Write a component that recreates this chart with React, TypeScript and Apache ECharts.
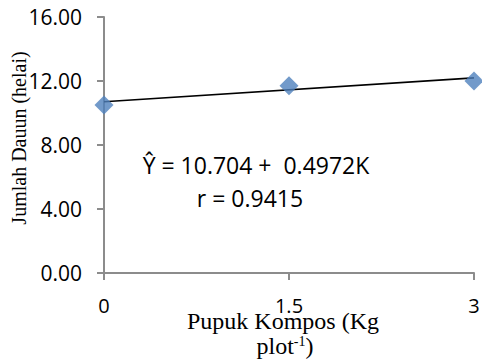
import React, { useEffect, useRef } from "react";
import * as echarts from "echarts";

const xTicks = [0, 1.5, 3];
const dosage = [0, 1.5, 3];
const leafCount = [10.5, 11.7, 12.0];
const intercept = 10.704;
const slope = 0.4972;
const equationText = "Ŷ = 10.704 +  0.4972K";
const rText = "r = 0.9415";
const yName = "Jumlah Dauun (helai)";

export default function App() {
  const ref = useRef<HTMLDivElement>(null);
  useEffect(() => {
    const chart = echarts.init(ref.current!, null, { renderer: "svg" });
    const sans = "Open Sans";
    const serif = "Liberation Serif";
    chart.setOption({
      animation: false,
      grid: { left: 104, right: 8, top: 17, bottom: 87, containLabel: false, outerBoundsMode: "none" },
      xAxis: {
        type: "value",
        min: 0,
        max: 3,
        interval: 1.5,
        axisLine: { show: true, lineStyle: { color: "#8c8c8c", width: 2 } },
        axisTick: { show: true, length: 7, lineStyle: { color: "#8c8c8c", width: 2 } },
        splitLine: { show: false },
        axisLabel: {
          color: "#000",
          fontFamily: sans,
          fontSize: 20,
          margin: 22,
          formatter: (v: number) => (xTicks.includes(v) ? String(v) : ""),
        },
      },
      yAxis: {
        type: "value",
        min: 0,
        max: 16,
        interval: 4,
        axisLine: { show: true, lineStyle: { color: "#8c8c8c", width: 2 } },
        axisTick: { show: true, length: 7, lineStyle: { color: "#8c8c8c", width: 2 } },
        splitLine: { show: false },
        axisLabel: {
          color: "#000",
          fontFamily: sans,
          fontSize: 21,
          margin: 22,
          formatter: (v: number) => v.toFixed(2),
        },
      },
      series: [
        {
          type: "line",
          data: [
            [0, intercept],
            [3, intercept + slope * 3],
          ],
          symbol: "none",
          lineStyle: { color: "#000", width: 1.6 },
          z: 2,
        },
        {
          type: "scatter",
          data: dosage.map((d, i) => [d, leafCount[i]]),
          symbol: "diamond",
          symbolSize: [19, 19],
          itemStyle: { color: "#4f81bd" },
          z: 3,
        },
      ],
      graphic: [
        {
          type: "text",
          x: 19,
          y: 138,
          rotation: Math.PI / 2,
          style: {
            text: yName,
            fontFamily: serif,
            fontSize: 20,
            fill: "#000",
            align: "center",
            verticalAlign: "middle",
          },
        },
        {
          type: "text",
          x: 256,
          y: 165,
          style: {
            text: equationText,
            fontFamily: sans,
            fontSize: 23,
            fill: "#000",
            align: "center",
            verticalAlign: "middle",
          },
        },
        {
          type: "text",
          x: 250,
          y: 198,
          style: {
            text: rText,
            fontFamily: sans,
            fontSize: 23,
            fill: "#000",
            align: "center",
            verticalAlign: "middle",
          },
        },
        {
          type: "text",
          x: 283,
          y: 321,
          style: {
            text: "Pupuk Kompos (Kg",
            fontFamily: serif,
            fontSize: 24,
            fill: "#000",
            align: "center",
            verticalAlign: "middle",
          },
        },
        {
          type: "text",
          x: 285,
          y: 346,
          style: {
            text: "{a|plot}{s|-1}{a|)}",
            fontFamily: serif,
            fontSize: 24,
            fill: "#000",
            align: "center",
            verticalAlign: "middle",
            rich: {
              a: { fontFamily: serif, fontSize: 24, fill: "#000" },
              s: { fontFamily: serif, fontSize: 14, fill: "#000", verticalAlign: "top", padding: [0, 0, 10, 0] },
            },
          },
        },
      ],
    });
    return () => chart.dispose();
  }, []);
  return <div ref={ref} style={{ width: 482, height: 360, position: "absolute", left: 0, top: 0 }} />;
}
